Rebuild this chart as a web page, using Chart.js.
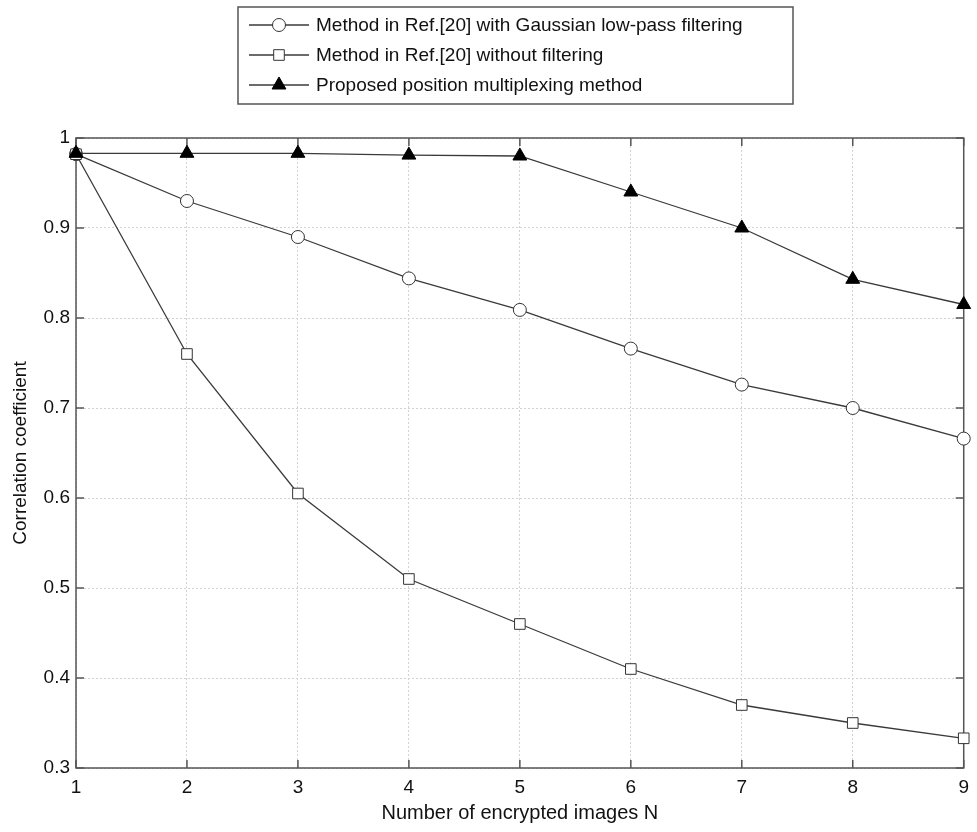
<!DOCTYPE html>
<html>
<head>
<meta charset="utf-8">
<script src="https://cdn.jsdelivr.net/npm/chart.js@4"></script>
<style>
  html, body { margin: 0; padding: 0; background: #fff; }
  #wrap { width: 977px; height: 832px; }
</style>
</head>
<body>
<div id="wrap"><canvas id="myLineChart" width="977" height="832"></canvas></div>
<script>
// number of encrypted images
const imageCounts = [1, 2, 3, 4, 5, 6, 7, 8, 9];

// correlation coefficients
const gaussianValues = [0.982, 0.930, 0.890, 0.844, 0.809, 0.766, 0.726, 0.700, 0.666];
const noFilterValues = [0.982, 0.760, 0.605, 0.510, 0.460, 0.410, 0.370, 0.350, 0.333];
const proposedValues = [0.983, 0.983, 0.983, 0.981, 0.980, 0.940, 0.900, 0.843, 0.815];

const seriesNames = [
    'Method in Ref.[20] with Gaussian low-pass filtering',
    'Method in Ref.[20] without filtering',
    'Proposed position multiplexing method'
];

const yTicks = [0.3, 0.4, 0.5, 0.6, 0.7, 0.8, 0.9, 1];
const yTickLabels = ['0.3', '0.4', '0.5', '0.6', '0.7', '0.8', '0.9', '1'];

const FONT = '"Liberation Sans", Arial, sans-serif';
const LINE = '#3a3a3a';

function toPoints(values) {
    return imageCounts.map((n, i) => ({ x: n, y: values[i] }));
}

// matlab style box with inward ticks on all sides
const boxPlugin = {
    id: 'box',
    beforeDatasetsDraw(chart) {
        const { ctx, chartArea: a, scales } = chart;
        ctx.save();
        ctx.strokeStyle = '#555';
        ctx.lineWidth = 1.5;
        ctx.strokeRect(a.left, a.top, a.right - a.left, a.bottom - a.top);
        ctx.beginPath();
        imageCounts.forEach(n => {
            const px = scales.x.getPixelForValue(n);
            ctx.moveTo(px, a.bottom); ctx.lineTo(px, a.bottom - 8);
            ctx.moveTo(px, a.top); ctx.lineTo(px, a.top + 8);
        });
        yTicks.forEach(v => {
            const py = scales.y.getPixelForValue(v);
            ctx.moveTo(a.left, py); ctx.lineTo(a.left + 8, py);
            ctx.moveTo(a.right, py); ctx.lineTo(a.right - 8, py);
        });
        ctx.stroke();
        ctx.restore();
    }
};

// legend box above the axes, line + marker samples
const legendPlugin = {
    id: 'boxLegend',
    afterDraw(chart) {
        const ctx = chart.ctx;
        const left = 238, top = 7, right = 793, bottom = 104;
        ctx.save();
        ctx.fillStyle = '#fff';
        ctx.fillRect(left, top, right - left, bottom - top);
        ctx.strokeStyle = '#555';
        ctx.lineWidth = 1.5;
        ctx.strokeRect(left, top, right - left, bottom - top);

        ctx.font = '19px ' + FONT;
        ctx.textBaseline = 'middle';
        chart.data.datasets.forEach((ds, i) => {
            const y = 25 + i * 30;
            ctx.strokeStyle = LINE;
            ctx.lineWidth = 1.3;
            ctx.beginPath();
            ctx.moveTo(249, y);
            ctx.lineTo(309, y);
            ctx.stroke();
            ctx.fillStyle = ds.pointBackgroundColor;
            ctx.strokeStyle = ds.pointBorderColor;
            ctx.lineWidth = 1;
            Chart.helpers.drawPoint(ctx, {
                pointStyle: ds.pointStyle,
                radius: ds.pointRadius,
                borderWidth: 1
            }, 279, y);
            ctx.fillStyle = '#111';
            ctx.fillText(ds.label, 316, y + 1);
        });
        ctx.restore();
    }
};

const ctx = document.getElementById('myLineChart').getContext('2d');

new Chart(ctx, {
    type: 'line',
    data: {
        datasets: [{
            label: seriesNames[0],
            data: toPoints(gaussianValues),
            order: 2,
            clip: false,
            borderColor: LINE,
            borderWidth: 1.3,
            pointStyle: 'circle',
            pointRadius: 6.5,
            pointBorderColor: '#333',
            pointBackgroundColor: '#fff',
            pointBorderWidth: 1,
            fill: false,
            tension: 0
        }, {
            label: seriesNames[1],
            data: toPoints(noFilterValues),
            order: 1,
            clip: false,
            borderColor: LINE,
            borderWidth: 1.3,
            pointStyle: 'rect',
            pointRadius: 7.5,
            pointBorderColor: '#333',
            pointBackgroundColor: '#fff',
            pointBorderWidth: 1,
            fill: false,
            tension: 0
        }, {
            label: seriesNames[2],
            data: toPoints(proposedValues),
            order: 0,
            clip: false,
            borderColor: LINE,
            borderWidth: 1.3,
            pointStyle: 'triangle',
            pointRadius: 8,
            pointBorderColor: '#000',
            pointBackgroundColor: '#000',
            pointBorderWidth: 1,
            fill: false,
            tension: 0
        }]
    },
    options: {
        responsive: false,
        animation: false,
        layout: { padding: { top: 138, right: 8, left: 0, bottom: 0 } },
        plugins: {
            legend: { display: false },
            tooltip: { enabled: false }
        },
        scales: {
            x: {
                type: 'linear',
                min: 1,
                max: 9,
                afterFit(scale) { scale.height = 64; },
                ticks: {
                    stepSize: 1,
                    padding: 8,
                    color: '#111',
                    font: { family: FONT, size: 19 }
                },
                grid: {
                    color: '#d2d2d2',
                    lineWidth: 1,
                    drawTicks: false
                },
                border: { display: false, dash: [2, 2] },
                title: {
                    display: true,
                    text: 'Number of encrypted images N',
                    color: '#111',
                    font: { family: FONT, size: 20 },
                    padding: { top: 0, bottom: 7 }
                }
            },
            y: {
                min: 0.3,
                max: 1,
                afterFit(scale) { scale.width = 76; },
                afterBuildTicks(scale) {
                    scale.ticks = yTicks.map(v => ({ value: v }));
                },
                ticks: {
                    padding: 6,
                    color: '#111',
                    font: { family: FONT, size: 19 },
                    callback(value, index) { return yTickLabels[index]; }
                },
                grid: {
                    color: '#d2d2d2',
                    lineWidth: 1,
                    drawTicks: false
                },
                border: { display: false, dash: [2, 2] },
                title: {
                    display: true,
                    text: 'Correlation coefficient',
                    color: '#111',
                    font: { family: FONT, size: 19 },
                    padding: { top: 9, bottom: 0 }
                }
            }
        }
    },
    plugins: [boxPlugin, legendPlugin]
});
</script>
</body>
</html>
